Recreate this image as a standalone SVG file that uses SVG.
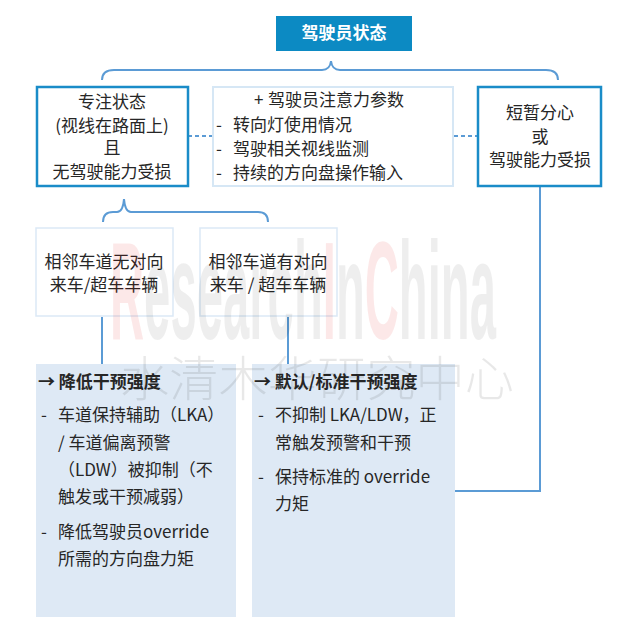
<svg xmlns="http://www.w3.org/2000/svg" width="627" height="638" viewBox="0 0 627 638">
<style>
  .t { font-family: "Noto Sans CJK SC", "Liberation Sans", sans-serif; font-size: 17px; fill: #262626; }
  .c { text-anchor: middle; }
  .b { font-weight: bold; }
  .box { fill: #ffffff; stroke: #1a8cc8; stroke-width: 2.5; }
  .lbox { fill: #ffffff; stroke: #d6e7f5; stroke-width: 2; }
  .mbox { fill: #ffffff; stroke: #dbe9f6; stroke-width: 1.5; }
  .res { fill: #dee9f5; stroke: none; }
  .ln { fill: none; stroke: #5b9bd5; stroke-width: 2; }
  .dash { fill: none; stroke: #5b9bd5; stroke-width: 2; stroke-dasharray: 4 3; }
  .wmg { fill: #000000; fill-opacity: 0.065; }
  .wmp { fill: #e00000; fill-opacity: 0.09; }
  .wmc { fill: #000000; fill-opacity: 0.09; }
</style>
<rect width="627" height="638" fill="#ffffff"/>

<g id="connectors">
  <path class="ln" d="M102,80 Q102,70 114,70 L322,70 Q330,70 331,61 Q332,70 340,70 L546,70 Q558,70 558,80"/>
  <path class="dash" d="M188,136 L212,136"/>
  <path class="dash" d="M454,136 L477,136"/>
  <path class="ln" d="M103,222 Q103,212 113,212 L117,212 Q123,212 124,199 Q125,212 131,212 L258,212 Q268,212 268,222"/>
  <path class="ln" d="M102,317 L102,364"/>
  <path class="ln" d="M288,317 L288,364"/>
  <path class="ln" d="M540,187 L540,491 L455,491"/>
</g>

<g id="title">
  <rect x="276" y="16" width="136" height="35" fill="#0c8ac3"/>
  <text class="t c b" x="344" y="39" style="fill:#ffffff">驾驶员状态</text>
</g>

<g id="focus">
  <rect class="box" x="37" y="87" width="151" height="99"/>
  <text class="t c" x="112" y="108">专注状态</text>
  <text class="t c" x="112" y="132">(视线在路面上)</text>
  <text class="t c" x="112" y="154">且</text>
  <text class="t c" x="112" y="178">无驾驶能力受损</text>
</g>

<g id="params">
  <rect class="lbox" x="213" y="87" width="240" height="99"/>
  <text class="t" x="254" y="106">+</text><text class="t" x="268" y="106">驾驶员注意力参数</text>
  <text class="t" x="216" y="131">-</text><text class="t" x="233" y="131">转向灯使用情况</text>
  <text class="t" x="216" y="155">-</text><text class="t" x="233" y="155">驾驶相关视线监测</text>
  <text class="t" x="216" y="179">-</text><text class="t" x="233" y="179">持续的方向盘操作输入</text>
</g>

<g id="distracted">
  <rect class="box" x="478" y="87" width="123" height="99"/>
  <text class="t c" x="540" y="119">短暂分心</text>
  <text class="t c" x="540" y="143">或</text>
  <text class="t c" x="540" y="166">驾驶能力受损</text>
</g>

<g id="no-oncoming">
  <rect class="mbox" x="36" y="228" width="137" height="88"/>
  <text class="t c" x="104" y="268">相邻车道无对向</text>
  <text class="t c" x="104" y="291">来车/超车车辆</text>
</g>

<g id="oncoming">
  <rect class="mbox" x="200" y="228" width="137" height="88"/>
  <text class="t c" x="268" y="268">相邻车道有对向</text>
  <text class="t c" x="268" y="291">来车 / 超车车辆</text>
</g>

<g id="reduce">
  <rect class="res" x="36" y="364" width="200" height="253"/>
  <text class="t b" x="38" y="388">→ 降低干预强度</text>
  <text class="t" x="41" y="421">-</text><text class="t" x="58" y="421">车道保持辅助（LKA）</text>
  <text class="t" x="58" y="449">/ 车道偏离预警</text>
  <text class="t" x="58" y="476">（LDW）被抑制（不</text>
  <text class="t" x="58" y="503">触发或干预减弱）</text>
  <text class="t" x="41" y="538">-</text><text class="t" x="58" y="538">降低驾驶员override</text>
  <text class="t" x="58" y="565">所需的方向盘力矩</text>
</g>

<g id="default">
  <rect class="res" x="252" y="364" width="203" height="253"/>
  <text class="t b" x="254" y="388">→ 默认/标准干预强度</text>
  <text class="t" x="258" y="421">-</text><text class="t" x="275" y="421">不抑制 LKA/LDW，正</text>
  <text class="t" x="275" y="449">常触发预警和干预</text>
  <text class="t" x="258" y="483">-</text><text class="t" x="275" y="483">保持标准的 override</text>
  <text class="t" x="275" y="510">力矩</text>
</g>

<g id="watermark" pointer-events="none">
  <text x="110" y="339" textLength="386" lengthAdjust="spacingAndGlyphs" style="font-family:'Liberation Sans Narrow','Liberation Sans',sans-serif;font-weight:bold;font-size:139px"><tspan class="wmp">R</tspan><tspan class="wmg">esearch</tspan><tspan class="wmp">I</tspan><tspan class="wmg">n</tspan><tspan class="wmp">C</tspan><tspan class="wmg">hina</tspan></text>
  <text class="wmc" x="120" y="396" textLength="394" lengthAdjust="spacingAndGlyphs" style="font-family:'Noto Sans CJK SC',sans-serif;font-weight:300;font-size:48px">水清木华研究中心</text>
</g>
</svg>
